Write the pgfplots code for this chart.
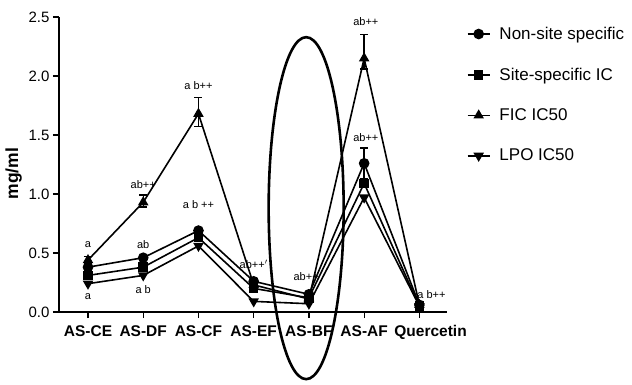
\documentclass[border=0pt]{standalone}
\usepackage{pgfplots}
\pgfplotsset{compat=1.18}
\usepackage{fontspec}
\setmainfont{Liberation Sans}
\begin{document}
\begin{tikzpicture}
\begin{axis}[
  scale only axis, width=388pt, height=295pt,
  xmin=-0.525, xmax=6.5, ymin=0, ymax=2.5,
  axis lines=left, axis line style={line width=1.6pt, -},
  xtick={0,...,6},
  xticklabels={AS-CE,AS-DF,AS-CF,AS-EF,AS-BF,AS-AF,{\makebox[0pt][l]{\hspace*{-25pt}Quercetin}}},
  ytick={0,0.5,1,1.5,2,2.5},
  /pgf/number format/assume math mode=true,
  yticklabel style={/pgf/number format/fixed, /pgf/number format/fixed zerofill, /pgf/number format/precision=1, font=\fontsize{15}{17}\selectfont},
  xticklabel style={font=\fontsize{15.5}{18}\selectfont\bfseries, yshift=-4pt},
  tick style={line width=1.2pt, black}, tick align=outside, major tick length=6pt,
  ylabel={mg/ml}, ylabel style={font=\fontsize{17.5}{19}\selectfont\bfseries, xshift=-9pt},
  clip=false,
  every axis plot/.append style={black, line width=1.6pt},
  legend style={at={(rel axis cs:1.043,0.98)}, anchor=north west, draw=none, fill=none,
    font=\fontsize{17}{19}\selectfont, row sep=23pt},
  legend cell align=left,
  legend image code/.code={\draw[mark repeat=2,mark phase=2] plot coordinates {(0pt,0pt)(11pt,0pt)(22pt,0pt)}; \path (29pt,0pt);},
  error bars/error bar style={line width=1.4pt},
  error bars/error mark options={rotate=90, mark size=4pt, line width=1.4pt},
]
\addplot[mark=*, mark size=4.5pt, error bars/.cd, y dir=both, y explicit] coordinates {
 (0,0.38) +- (0,0.02) (1,0.46) +- (0,0.02) (2,0.69) +- (0,0.02) (3,0.26) +- (0,0.02)
 (4,0.15) +- (0,0.02) (5,1.26) +- (0,0.13) (6,0.06) +- (0,0.01)};
\addlegendentry{Non-site specific}
\addplot[mark=square*, mark size=4pt] coordinates {
 (0,0.31) (1,0.38) (2,0.63) (3,0.20) (4,0.12) (5,1.09) (6,0.05)};
\addlegendentry{Site-specific IC}
\addplot[mark=triangle*, mark size=4.5pt, error bars/.cd, y dir=both, y explicit] coordinates {
 (0,0.44) +- (0,0.03) (1,0.93) += (0,0.06) -= (0,0.04) (2,1.68) += (0,0.14) -= (0,0.11) (3,0.23) +- (0,0.02)
 (4,0.11) +- (0,0.02) (5,2.15) += (0,0.20) -= (0,0.09) (6,0.06) +- (0,0.01)};
\addlegendentry{FIC IC50}
\addplot[mark=triangle*, mark size=4.5pt, mark options={rotate=180}] coordinates {
 (0,0.24) (1,0.31) (2,0.56) (3,0.09) (4,0.07) (5,0.97) (6,0.05)};
\addlegendentry{LPO IC50}
\begin{scope}[font=\fontsize{11}{13}\selectfont]
\node at (axis cs:0,0.57) {a};
\node at (axis cs:0,0.13) {a};
\node at (axis cs:1,0.57) {ab};
\node at (axis cs:1,0.19) {a b};
\node at (axis cs:1,1.08) {ab++};
\node at (axis cs:2,1.92) {a b++};
\node at (axis cs:2,0.91) {a b ++};
\node at (axis cs:3,0.40) {ab++$'$};
\node at (axis cs:3.95,0.30) {ab++};
\node at (axis cs:5.03,2.46) {ab++};
\node at (axis cs:5.03,1.48) {ab++};
\node[anchor=west, inner sep=0pt] at (axis cs:5.96,0.15) {a b++};
\end{scope}
\draw[line width=2.6pt] (axis cs:3.95,0.88) ellipse [x radius=37.5pt, y radius=171pt];
\end{axis}
\pgfresetboundingbox
\path[use as bounding box] (current axis.south west) ++(-59pt,-72pt) rectangle ++(632pt,384pt);
\end{tikzpicture}
\end{document}
